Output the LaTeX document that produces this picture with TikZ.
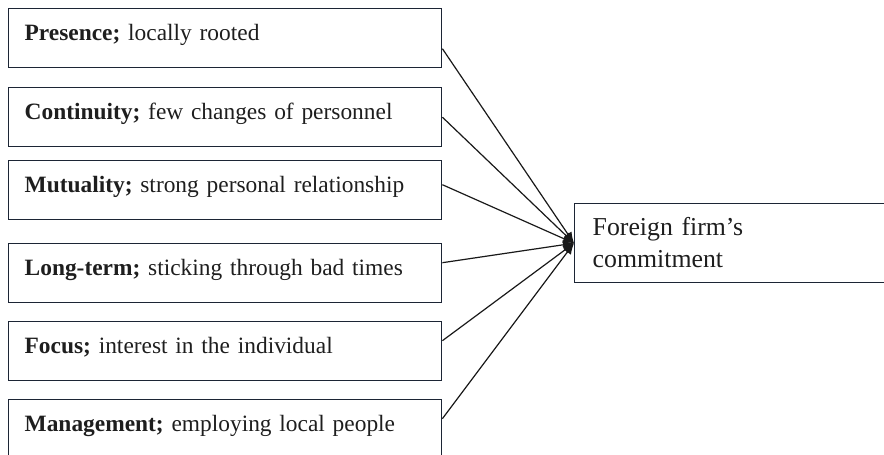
\documentclass[tikz,border=0pt]{standalone}
\usepackage{fontspec}
\setmainfont{Liberation Serif}
\usetikzlibrary{arrows.meta}
\definecolor{boxline}{HTML}{1C2535}
\definecolor{inktext}{HTML}{1E1E1E}
\begin{document}
\begin{tikzpicture}[x=1pt,y=-1pt,
  factor/.style={draw=boxline, line width=1.4pt, anchor=north west,
    inner xsep=16pt, inner ysep=0pt, text width=401pt, align=left,
    text height=31.5pt, text depth=27.5pt, text=inktext,
    font=\fontsize{23.4}{28}\selectfont},
  outcome/.style={draw=boxline, line width=1.4pt, anchor=north west,
    inner xsep=18pt, inner ysep=0pt, text width=290pt, align=left,
    text height=32pt, text depth=47pt, text=inktext,
    font=\fontsize{25.8}{32}\selectfont},
  link/.style={draw=black!90, line width=1.2pt,
    -{Latex[length=11pt,width=9pt]}}]
\useasboundingbox (0,0) rectangle (884,455);
\clip (0,0) rectangle (884,455);

% factor boxes
\node[factor] (b1) at (8,8)   {\textbf{Presence;} locally rooted};
\node[factor] (b2) at (8,87)  {\textbf{Continuity;} few changes of personnel};
\node[factor] (b3) at (8,160) {\textbf{Mutuality;} strong personal relationship};
\node[factor] (b4) at (8,243) {\textbf{Long-term;} sticking through bad times};
\node[factor] (b5) at (8,321) {\textbf{Focus;} interest in the individual};
\node[factor] (b6) at (8,399) {\textbf{Management;} employing local people};

% outcome box
\node[outcome] (t) at (574,203) {Foreign firm’s\\commitment};

% connectors
\draw[link] ([yshift=-10.5pt]b1.east) -- (t.west);
\draw[link] (b2.east) -- (t.west);
\draw[link] ([yshift=5.5pt]b3.east) -- (t.west);
\draw[link] ([yshift=10.5pt]b4.east) -- (t.west);
\draw[link] ([yshift=10.5pt]b5.east) -- (t.west);
\draw[link] ([yshift=10.5pt]b6.east) -- (t.west);
\end{tikzpicture}
\end{document}
